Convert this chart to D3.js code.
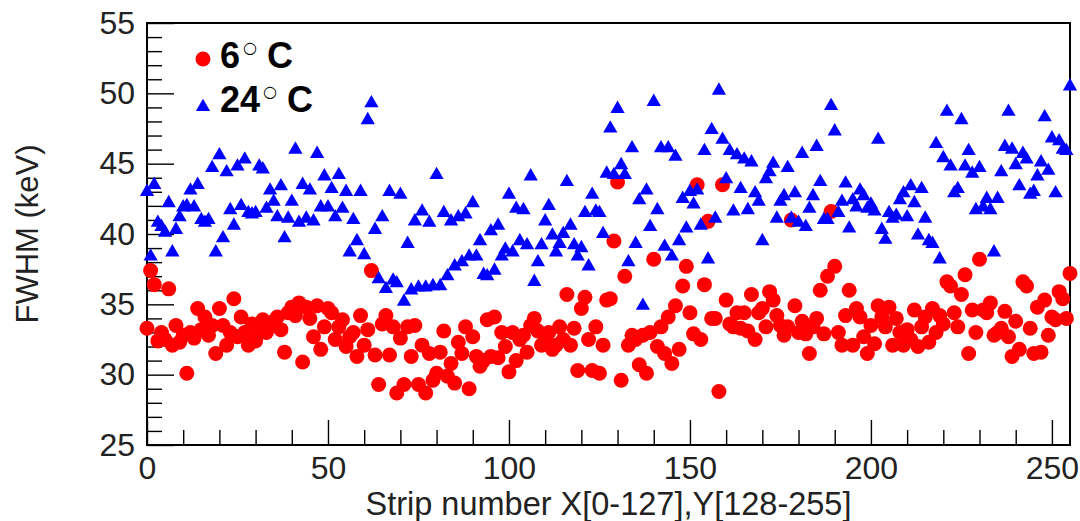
<!DOCTYPE html>
<html><head><meta charset="utf-8">
<script src="https://cdn.jsdelivr.net/npm/d3@7"></script>
<style>body{margin:0;background:#fff}svg{display:block}</style>
</head><body>
<svg id="c" width="1080" height="521"></svg>
<script>
// FWHM per strip (keV)
const fwhm6C = [
33.3,37.4,36.4,32.4,33.0,32.5,36.1,32.1,33.5,32.3,32.8,30.1,33.0,32.6,34.7,33.2,34.1,32.8,33.5,31.5,
34.7,33.5,32.1,33.0,35.4,32.7,34.1,33.0,32.1,33.6,32.4,33.0,33.9,33.0,33.6,33.8,34.1,33.2,31.6,34.4,
34.8,34.2,35.1,30.9,34.8,34.0,32.7,34.9,31.8,33.4,34.7,34.4,32.5,33.4,33.9,32.0,32.7,33.0,31.3,34.2,
32.1,33.2,37.4,31.4,29.3,33.6,34.2,31.4,33.4,28.7,32.6,29.3,33.4,31.3,33.5,29.3,32.1,28.7,31.5,29.6,
30.1,31.6,33.1,29.9,30.8,29.4,32.3,31.5,33.4,29.0,32.7,31.3,30.6,31.0,33.9,31.3,34.1,31.2,33.0,32.0,
30.2,33.0,31.0,32.5,32.8,31.6,33.5,34.0,33.1,32.1,32.7,33.0,31.8,32.1,33.4,32.5,35.7,32.1,33.3,30.3,
34.7,35.5,32.5,30.3,33.4,30.1,32.1,35.3,35.4,39.5,43.7,29.6,37.0,32.1,32.8,32.5,30.7,32.8,30.1,33.0,
38.2,32.0,33.4,31.5,34.1,30.8,34.9,31.8,36.3,37.7,34.4,32.9,43.5,32.5,36.4,40.9,34.0,34.0,28.8,43.5,
35.3,33.6,33.4,34.4,33.3,34.4,33.1,35.7,32.5,34.4,34.7,33.4,35.9,35.3,34.2,33.5,32.8,33.4,41.0,34.9,
33.0,33.8,32.9,31.5,33.4,34.0,36.0,32.9,37.0,41.6,37.7,33.0,32.1,34.2,36.0,32.1,34.7,34.1,32.7,31.5,
33.5,32.2,34.9,34.1,33.4,34.8,32.1,34.0,33.0,32.1,33.2,32.5,34.6,32.0,33.4,34.1,32.3,34.7,33.0,34.2,
33.6,36.6,36.3,34.4,33.4,35.7,37.1,31.5,34.6,33.0,38.2,34.6,34.4,35.1,32.8,33.0,33.3,34.5,32.7,31.3,
33.8,31.8,36.6,36.3,33.3,31.5,34.8,31.6,35.3,32.8,34.1,33.9,35.9,35.4,34.0,37.2
];
const fwhm24C = [
43.0,38.4,43.5,40.8,40.5,40.1,42.2,38.7,40.3,41.2,41.9,42.0,43.1,41.9,43.5,41.0,40.8,41.0,44.7,38.7,
45.6,39.7,44.4,41.7,40.6,44.8,42.0,45.3,41.5,41.4,41.5,44.8,44.6,41.8,43.1,42.3,41.2,43.4,39.7,41.1,
42.3,46.0,40.8,43.5,41.1,43.1,40.9,45.7,41.9,44.1,41.9,43.2,41.2,44.2,41.8,43.0,38.7,41.0,39.5,43.0,
38.5,48.1,49.3,40.3,36.8,41.2,36.1,43.0,36.7,36.5,42.8,35.2,39.3,36.0,40.9,36.2,41.6,36.2,40.8,36.3,
44.2,36.3,41.5,37.0,40.9,37.7,41.2,38.0,41.4,38.4,42.2,38.4,39.5,37.1,37.0,40.2,37.4,40.6,38.4,38.9,
42.8,38.7,41.8,39.5,41.7,39.2,44.1,36.6,38.0,39.2,40.9,42.0,39.9,38.7,39.3,40.0,43.7,40.6,39.2,38.4,
39.0,41.5,37.7,42.8,41.6,41.5,40.0,44.3,47.5,44.2,48.9,44.9,44.2,38.0,46.1,39.3,42.4,34.9,43.1,40.5,
49.4,41.7,46.1,39.1,46.1,38.4,45.5,39.5,42.5,40.4,43.0,42.1,43.1,40.6,45.9,38.2,47.4,41.1,50.2,46.7,
43.9,45.9,41.6,45.6,43.2,45.3,41.7,45.1,42.9,42.3,39.5,43.9,44.4,45.0,41.1,42.3,42.7,44.7,41.1,42.9,
40.8,45.7,40.5,41.8,42.7,46.2,43.7,41.0,41.0,49.1,47.3,41.5,42.3,43.6,40.4,42.4,41.9,43.1,42.7,41.8,
42.1,41.6,46.7,40.3,39.6,41.5,41.1,41.3,42.4,42.9,41.2,43.4,42.2,39.9,43.2,41.1,39.5,39.3,46.4,38.2,
45.4,48.7,44.8,42.9,43.2,48.1,44.8,45.9,44.3,41.7,44.7,41.9,42.5,41.7,38.7,42.5,44.4,46.2,48.7,46.0,
44.9,43.4,45.7,45.3,42.8,43.0,44.1,45.1,48.3,44.5,46.8,42.9,46.6,46.0,45.9,50.5
];
const strips = d3.range(256);
const xMajorTicks = [0, 50, 100, 150, 200, 250];
const yMajorTicks = [25, 30, 35, 40, 45, 50, 55];
const xTitle = "Strip number X[0-127],Y[128-255]";
const yTitle = "FWHM (keV)";
const legendLabels = ["6", "24"];

const svg = d3.select("#c");
const L = 147, R = 1070, T = 23, B = 445;
const x = d3.scaleLinear().domain([0, 255]).range([L, R]);
const y = d3.scaleLinear().domain([25, 55]).range([B, T]);
const font = "'Liberation Sans', Arial, Helvetica, sans-serif";

// minor ticks
const yMinor = d3.range(25, 56, 1).filter(v => v % 5 !== 0);
const xMinor = d3.range(0, 256, 10).filter(v => v % 50 !== 0);

const gy = svg.append("g").attr("transform", `translate(${L},0)`)
  .call(d3.axisLeft(y).tickValues(yMajorTicks).tickSize(-27).tickPadding(12).tickFormat(d3.format("d")));
svg.append("g").attr("transform", `translate(${L},0)`)
  .call(d3.axisLeft(y).tickValues(yMinor).tickSize(-15).tickFormat(""));
const gx = svg.append("g").attr("transform", `translate(0,${B})`)
  .call(d3.axisBottom(x).tickValues(xMajorTicks).tickSize(-25).tickPadding(11).tickFormat(d3.format("d")));
svg.append("g").attr("transform", `translate(0,${B})`)
  .call(d3.axisBottom(x).tickValues(xMinor).tickSize(-15).tickFormat(""));

svg.selectAll(".domain").remove();
svg.selectAll(".tick line").attr("stroke", "#000").attr("stroke-width", 1.4);
svg.selectAll(".tick text").attr("font-family", font).attr("font-size", 32).attr("fill", "#222");
gx.selectAll(".tick text").attr("dy", "0.72em");

// frame
svg.append("rect").attr("x", L).attr("y", T).attr("width", R - L).attr("height", B - T)
  .attr("fill", "none").attr("stroke", "#000").attr("stroke-width", 2);

// axis titles
svg.append("text").attr("x", (L + R) / 2).attr("y", 515).attr("text-anchor", "middle")
  .attr("font-family", font).attr("font-size", 32.5).attr("fill", "#222").text(xTitle);
svg.append("text").attr("transform", `translate(38,${(T + B) / 2}) rotate(-90)`).attr("text-anchor", "middle")
  .attr("font-family", font).attr("font-size", 31).attr("fill", "#222").text(yTitle);

// data
const red = "#ff0000", blue = "#0000ff";
svg.append("g").selectAll("circle").data(strips).join("circle")
  .attr("cx", i => x(i)).attr("cy", i => y(fwhm6C[i])).attr("r", 7.5).attr("fill", red);
const tri = d3.symbol().type(d3.symbolTriangle).size(88);
svg.append("g").selectAll("path").data(strips).join("path")
  .attr("d", tri).attr("transform", i => `translate(${x(i)},${y(fwhm24C[i])})`).attr("fill", blue);

// legend
svg.append("circle").attr("cx", 203).attr("cy", 59).attr("r", 7.5).attr("fill", red);
svg.append("path").attr("d", tri).attr("transform", "translate(203,107)").attr("fill", blue);
const legY = [68, 112];
legendLabels.forEach((lab, k) => {
  const t = svg.append("text").attr("font-family", font).attr("font-size", 36).attr("font-weight", "bold").attr("fill", "#000");
  const w = lab.length * 20;
  t.append("tspan").attr("x", 220).attr("y", legY[k]).text(lab);
  t.append("tspan").attr("x", 220 + w + 3).attr("y", legY[k] - 15).attr("font-size", 16)
    .attr("font-weight", "normal").attr("font-family", "'DejaVu Sans'").text("○");
  t.append("tspan").attr("x", 220 + w + 27).attr("y", legY[k]).text("C");
});
</script>
</body></html>
